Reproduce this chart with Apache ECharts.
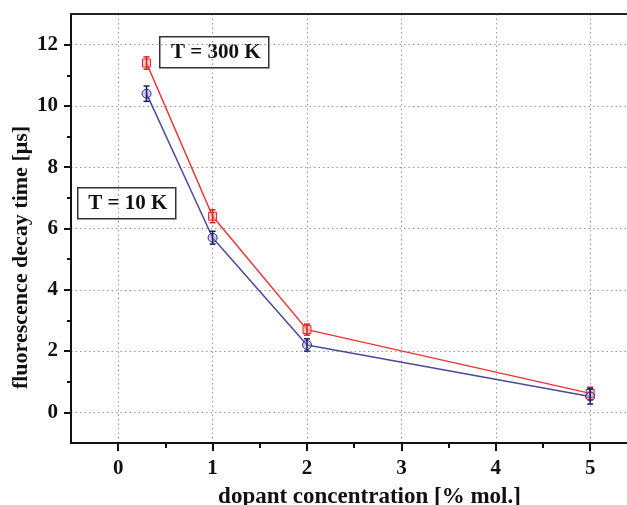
<!DOCTYPE html>
<html>
<head>
<meta charset="utf-8">
<script src="https://cdn.jsdelivr.net/npm/echarts@6/dist/echarts.min.js"></script>
<style>html,body{margin:0;padding:0;background:#fff}#c{width:627px;height:505px}</style>
</head>
<body>
<div id="c"></div>
<script>
var concentrations = [0.3, 1, 2, 5];
var decay300K = [11.4, 6.4, 2.7, 0.62];
var err300K = [0.2, 0.21, 0.18, 0.2];
var decay10K = [10.4, 5.7, 2.2, 0.52];
var err10K = [0.25, 0.21, 0.2, 0.25];
var xMajorTicks = [0, 1, 2, 3, 4, 5];
var xMinorTicks = [0.5, 1.5, 2.5, 3.5, 4.5];
var yMajorTicks = [0, 2, 4, 6, 8, 10, 12];
var yMinorTicks = [1, 3, 5, 7, 9, 11];

var FONT = '"Liberation Serif", "DejaVu Serif", serif';
function pts(xs, ys) { return xs.map(function (x, i) { return [x, ys[i]]; }); }
function errs(xs, ys, es) { return xs.map(function (x, i) { return [x, ys[i] - es[i], ys[i] + es[i]]; }); }

function errRender(color) {
  return function (params, api) {
    var x = api.value(0);
    var lo = api.coord([x, api.value(1)]);
    var hi = api.coord([x, api.value(2)]);
    var w = 3;
    var st = { stroke: color, lineWidth: 1.5 };
    return {
      type: 'group',
      children: [
        { type: 'line', shape: { x1: lo[0], y1: lo[1], x2: hi[0], y2: hi[1] }, style: st },
        { type: 'line', shape: { x1: lo[0] - w, y1: lo[1], x2: lo[0] + w, y2: lo[1] }, style: st },
        { type: 'line', shape: { x1: hi[0] - w, y1: hi[1], x2: hi[0] + w, y2: hi[1] }, style: st }
      ]
    };
  };
}

var gridLine = { show: true, lineStyle: { color: '#999', type: [1.5, 3], width: 1 } };
var axisLabelStyle = { fontFamily: FONT, fontWeight: 'bold', fontSize: 21, color: '#111' };

var chart = echarts.init(document.getElementById('c'));
chart.setOption({
  animation: false,
  grid: { left: 71, right: 0, top: 14, bottom: 62, containLabel: false, outerBoundsMode: 'none' },
  xAxis: [
    {
      type: 'value', min: -0.5, max: 5.39, interval: 0.5, position: 'bottom',
      axisLine: { show: true, onZero: false, lineStyle: { color: '#111', width: 2 } },
      axisTick: { show: true, length: 8, customValues: xMajorTicks, lineStyle: { color: '#111', width: 2 } },
      axisLabel: Object.assign({ customValues: xMajorTicks, margin: 15 }, axisLabelStyle),
      splitLine: gridLine,
      name: 'dopant concentration [% mol.]', nameLocation: 'middle', nameGap: 43,
      nameTextStyle: { fontFamily: FONT, fontWeight: 'bold', fontSize: 23, color: '#111', padding: [0, 0, 0, 41] }
    },
    {
      type: 'value', min: -0.5, max: 5.39, interval: 0.5, position: 'bottom',
      axisLine: { show: false, onZero: false },
      axisTick: { show: true, length: 5, customValues: xMinorTicks, lineStyle: { color: '#111', width: 2 } },
      axisLabel: { show: false }, splitLine: { show: false }
    },
    {
      type: 'value', min: -0.5, max: 5.39, position: 'top',
      axisLine: { show: true, onZero: false, lineStyle: { color: '#222', width: 2 } },
      axisTick: { show: false }, axisLabel: { show: false }, splitLine: { show: false }
    }
  ],
  yAxis: [
    {
      type: 'value', min: -1, max: 13, interval: 1, position: 'left',
      axisLine: { show: true, onZero: false, lineStyle: { color: '#111', width: 2 } },
      axisTick: { show: true, length: 7, customValues: yMajorTicks, lineStyle: { color: '#111', width: 2 } },
      axisLabel: Object.assign({ customValues: yMajorTicks, margin: 13 }, axisLabelStyle),
      splitLine: gridLine,
      name: 'fluorescence decay time [μs]', nameLocation: 'middle', nameGap: 39, nameMoveOverlap: false,
      nameTextStyle: { fontFamily: FONT, fontWeight: 'bold', fontSize: 22, color: '#111', padding: [0, 58, 0, 0] }
    },
    {
      type: 'value', min: -1, max: 13, interval: 1, position: 'left',
      axisLine: { show: false, onZero: false },
      axisTick: { show: true, length: 4, customValues: yMinorTicks, lineStyle: { color: '#111', width: 2 } },
      axisLabel: { show: false }, splitLine: { show: false }
    }
  ],
  series: [
    {
      type: 'line', name: 'T = 300 K', data: pts(concentrations, decay300K),
      symbol: 'rect', symbolSize: 8, showAllSymbol: true,
      lineStyle: { color: '#ee3333', width: 1.5 },
      itemStyle: { color: 'rgba(255,170,170,0.6)', borderColor: '#e02525', borderWidth: 1 }, z: 3
    },
    {
      type: 'line', name: 'T = 10 K', data: pts(concentrations, decay10K),
      symbol: 'circle', symbolSize: 9, showAllSymbol: true,
      lineStyle: { color: '#4a4a9e', width: 1.5 },
      itemStyle: { color: 'rgba(160,160,220,0.5)', borderColor: '#2a2a80', borderWidth: 1 }, z: 3
    },
    { type: 'custom', data: errs(concentrations, decay300K, err300K), renderItem: errRender('#d42020'), z: 4 },
    { type: 'custom', data: errs(concentrations, decay10K, err10K), renderItem: errRender('#1c1c6e'), z: 4 }
  ],
  graphic: [
    {
      type: 'group', left: 159, top: 36,
      children: [
        { type: 'rect', shape: { x: 0, y: 0, width: 109, height: 31 }, style: { fill: '#fff', stroke: '#333', lineWidth: 1.5 } },
        { type: 'text', x: 56, y: 16, style: { text: 'T = 300 K', fontFamily: FONT, fontWeight: 'bold', fontSize: 21, fill: '#111', align: 'center', verticalAlign: 'middle' } }
      ]
    },
    {
      type: 'group', left: 77, top: 187,
      children: [
        { type: 'rect', shape: { x: 0, y: 0, width: 98, height: 31 }, style: { fill: '#fff', stroke: '#333', lineWidth: 1.5 } },
        { type: 'text', x: 50, y: 16, style: { text: 'T = 10 K', fontFamily: FONT, fontWeight: 'bold', fontSize: 21, fill: '#111', align: 'center', verticalAlign: 'middle' } }
      ]
    }
  ]
});
</script>
</body>
</html>
